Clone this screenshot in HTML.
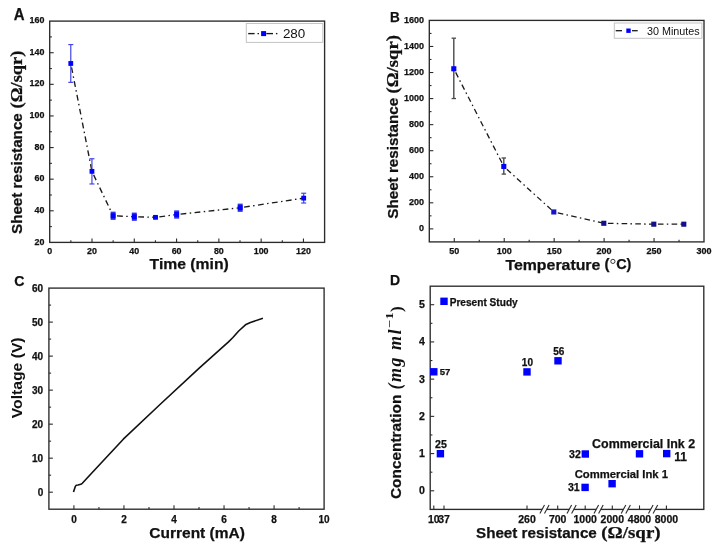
<!DOCTYPE html><html><head><meta charset="utf-8"><style>html,body{margin:0;padding:0;background:#fff;}svg{display:block;will-change:transform}</style></head><body>
<svg width="717" height="547" viewBox="0 0 717 547">
<rect width="717" height="547" fill="#fff"/>
<rect x="49.70" y="21.10" width="274.90" height="221.30" fill="none" stroke="#2b2b2b" stroke-width="1.35"/>
<line x1="70.85" y1="242.40" x2="70.85" y2="240.20" stroke="#2b2b2b" stroke-width="1.1" />
<line x1="91.99" y1="242.40" x2="91.99" y2="238.40" stroke="#2b2b2b" stroke-width="1.1" />
<line x1="113.14" y1="242.40" x2="113.14" y2="240.20" stroke="#2b2b2b" stroke-width="1.1" />
<line x1="134.28" y1="242.40" x2="134.28" y2="238.40" stroke="#2b2b2b" stroke-width="1.1" />
<line x1="155.43" y1="242.40" x2="155.43" y2="240.20" stroke="#2b2b2b" stroke-width="1.1" />
<line x1="176.58" y1="242.40" x2="176.58" y2="238.40" stroke="#2b2b2b" stroke-width="1.1" />
<line x1="197.72" y1="242.40" x2="197.72" y2="240.20" stroke="#2b2b2b" stroke-width="1.1" />
<line x1="218.87" y1="242.40" x2="218.87" y2="238.40" stroke="#2b2b2b" stroke-width="1.1" />
<line x1="240.01" y1="242.40" x2="240.01" y2="240.20" stroke="#2b2b2b" stroke-width="1.1" />
<line x1="261.16" y1="242.40" x2="261.16" y2="238.40" stroke="#2b2b2b" stroke-width="1.1" />
<line x1="282.31" y1="242.40" x2="282.31" y2="240.20" stroke="#2b2b2b" stroke-width="1.1" />
<line x1="303.45" y1="242.40" x2="303.45" y2="238.40" stroke="#2b2b2b" stroke-width="1.1" />
<line x1="49.70" y1="226.59" x2="51.90" y2="226.59" stroke="#2b2b2b" stroke-width="1.1" />
<line x1="49.70" y1="210.79" x2="53.70" y2="210.79" stroke="#2b2b2b" stroke-width="1.1" />
<line x1="49.70" y1="194.98" x2="51.90" y2="194.98" stroke="#2b2b2b" stroke-width="1.1" />
<line x1="49.70" y1="179.17" x2="53.70" y2="179.17" stroke="#2b2b2b" stroke-width="1.1" />
<line x1="49.70" y1="163.37" x2="51.90" y2="163.37" stroke="#2b2b2b" stroke-width="1.1" />
<line x1="49.70" y1="147.56" x2="53.70" y2="147.56" stroke="#2b2b2b" stroke-width="1.1" />
<line x1="49.70" y1="131.75" x2="51.90" y2="131.75" stroke="#2b2b2b" stroke-width="1.1" />
<line x1="49.70" y1="115.94" x2="53.70" y2="115.94" stroke="#2b2b2b" stroke-width="1.1" />
<line x1="49.70" y1="100.14" x2="51.90" y2="100.14" stroke="#2b2b2b" stroke-width="1.1" />
<line x1="49.70" y1="84.33" x2="53.70" y2="84.33" stroke="#2b2b2b" stroke-width="1.1" />
<line x1="49.70" y1="68.52" x2="51.90" y2="68.52" stroke="#2b2b2b" stroke-width="1.1" />
<line x1="49.70" y1="52.72" x2="53.70" y2="52.72" stroke="#2b2b2b" stroke-width="1.1" />
<line x1="49.70" y1="36.91" x2="51.90" y2="36.91" stroke="#2b2b2b" stroke-width="1.1" />
<text x="49.70" y="254.20" font-family='"Liberation Sans", sans-serif' font-size="8.9" font-weight="bold" text-anchor="middle" fill="#111" stroke="#111" stroke-width="0.25" >0</text>
<text x="91.99" y="254.20" font-family='"Liberation Sans", sans-serif' font-size="8.9" font-weight="bold" text-anchor="middle" fill="#111" stroke="#111" stroke-width="0.25" >20</text>
<text x="134.28" y="254.20" font-family='"Liberation Sans", sans-serif' font-size="8.9" font-weight="bold" text-anchor="middle" fill="#111" stroke="#111" stroke-width="0.25" >40</text>
<text x="176.58" y="254.20" font-family='"Liberation Sans", sans-serif' font-size="8.9" font-weight="bold" text-anchor="middle" fill="#111" stroke="#111" stroke-width="0.25" >60</text>
<text x="218.87" y="254.20" font-family='"Liberation Sans", sans-serif' font-size="8.9" font-weight="bold" text-anchor="middle" fill="#111" stroke="#111" stroke-width="0.25" >80</text>
<text x="261.16" y="254.20" font-family='"Liberation Sans", sans-serif' font-size="8.9" font-weight="bold" text-anchor="middle" fill="#111" stroke="#111" stroke-width="0.25" >100</text>
<text x="303.45" y="254.20" font-family='"Liberation Sans", sans-serif' font-size="8.9" font-weight="bold" text-anchor="middle" fill="#111" stroke="#111" stroke-width="0.25" >120</text>
<text x="44.40" y="244.50" font-family='"Liberation Sans", sans-serif' font-size="8.9" font-weight="bold" text-anchor="end" fill="#111" stroke="#111" stroke-width="0.25" >20</text>
<text x="44.40" y="212.89" font-family='"Liberation Sans", sans-serif' font-size="8.9" font-weight="bold" text-anchor="end" fill="#111" stroke="#111" stroke-width="0.25" >40</text>
<text x="44.40" y="181.27" font-family='"Liberation Sans", sans-serif' font-size="8.9" font-weight="bold" text-anchor="end" fill="#111" stroke="#111" stroke-width="0.25" >60</text>
<text x="44.40" y="149.66" font-family='"Liberation Sans", sans-serif' font-size="8.9" font-weight="bold" text-anchor="end" fill="#111" stroke="#111" stroke-width="0.25" >80</text>
<text x="44.40" y="118.04" font-family='"Liberation Sans", sans-serif' font-size="8.9" font-weight="bold" text-anchor="end" fill="#111" stroke="#111" stroke-width="0.25" >100</text>
<text x="44.40" y="86.43" font-family='"Liberation Sans", sans-serif' font-size="8.9" font-weight="bold" text-anchor="end" fill="#111" stroke="#111" stroke-width="0.25" >120</text>
<text x="44.40" y="54.82" font-family='"Liberation Sans", sans-serif' font-size="8.9" font-weight="bold" text-anchor="end" fill="#111" stroke="#111" stroke-width="0.25" >140</text>
<text x="44.40" y="23.20" font-family='"Liberation Sans", sans-serif' font-size="8.9" font-weight="bold" text-anchor="end" fill="#111" stroke="#111" stroke-width="0.25" >160</text>
<line x1="71.53" y1="67.29" x2="91.95" y2="171.36" stroke="#1a1a1a" stroke-width="1.35" stroke-dasharray="5.8 3.4 1.5 3.4"/>
<line x1="93.63" y1="174.88" x2="113.12" y2="215.77" stroke="#1a1a1a" stroke-width="1.35" stroke-dasharray="5.8 3.4 1.5 3.4"/>
<line x1="117.02" y1="215.94" x2="134.30" y2="216.72" stroke="#1a1a1a" stroke-width="1.35" stroke-dasharray="5.8 3.4 1.5 3.4"/>
<line x1="138.20" y1="216.83" x2="155.48" y2="217.34" stroke="#1a1a1a" stroke-width="1.35" stroke-dasharray="5.8 3.4 1.5 3.4"/>
<line x1="159.34" y1="216.83" x2="176.65" y2="214.51" stroke="#1a1a1a" stroke-width="1.35" stroke-dasharray="5.8 3.4 1.5 3.4"/>
<line x1="180.53" y1="214.10" x2="240.18" y2="207.74" stroke="#1a1a1a" stroke-width="1.35" stroke-dasharray="5.8 3.4 1.5 3.4"/>
<line x1="244.03" y1="207.15" x2="303.70" y2="198.13" stroke="#1a1a1a" stroke-width="1.35" stroke-dasharray="5.8 3.4 1.5 3.4"/>
<line x1="70.78" y1="44.57" x2="70.78" y2="82.37" stroke="#4444e8" stroke-width="1.2" />
<line x1="68.28" y1="44.57" x2="73.28" y2="44.57" stroke="#4444e8" stroke-width="1.2" />
<line x1="68.28" y1="82.37" x2="73.28" y2="82.37" stroke="#4444e8" stroke-width="1.2" />
<rect x="68.38" y="61.07" width="4.80" height="4.80" fill="#0000ff"/>
<line x1="91.95" y1="158.75" x2="91.95" y2="183.96" stroke="#4444e8" stroke-width="1.2" />
<line x1="89.45" y1="158.75" x2="94.45" y2="158.75" stroke="#4444e8" stroke-width="1.2" />
<line x1="89.45" y1="183.96" x2="94.45" y2="183.96" stroke="#4444e8" stroke-width="1.2" />
<rect x="89.55" y="168.96" width="4.80" height="4.80" fill="#0000ff"/>
<rect x="110.62" y="211.65" width="5" height="8.24" fill="#3030e8"/>
<rect x="110.72" y="213.37" width="4.80" height="4.80" fill="#0000ff"/>
<rect x="131.80" y="212.59" width="5" height="8.25" fill="#3030e8"/>
<rect x="131.90" y="214.31" width="4.80" height="4.80" fill="#0000ff"/>
<rect x="152.98" y="215.90" width="5" height="2.89" fill="#3030e8"/>
<rect x="153.08" y="214.94" width="4.80" height="4.80" fill="#0000ff"/>
<rect x="174.15" y="210.39" width="5" height="8.25" fill="#3030e8"/>
<rect x="174.25" y="212.11" width="4.80" height="4.80" fill="#0000ff"/>
<rect x="237.68" y="203.62" width="5" height="8.24" fill="#3030e8"/>
<rect x="237.78" y="205.34" width="4.80" height="4.80" fill="#0000ff"/>
<line x1="303.70" y1="193.25" x2="303.70" y2="203.01" stroke="#4444e8" stroke-width="1.2" />
<line x1="301.20" y1="193.25" x2="306.20" y2="193.25" stroke="#4444e8" stroke-width="1.2" />
<line x1="301.20" y1="203.01" x2="306.20" y2="203.01" stroke="#4444e8" stroke-width="1.2" />
<rect x="301.30" y="195.73" width="4.80" height="4.80" fill="#0000ff"/>
<rect x="246.3" y="23.5" width="76.5" height="18.9" fill="#fff" stroke="#c4c4c4" stroke-width="1"/>
<line x1="248.20" y1="33.60" x2="254.60" y2="33.60" stroke="#1a1a1a" stroke-width="1.35" />
<line x1="257.50" y1="33.60" x2="259.00" y2="33.60" stroke="#1a1a1a" stroke-width="1.35" />
<line x1="266.30" y1="33.60" x2="273.00" y2="33.60" stroke="#1a1a1a" stroke-width="1.35" />
<line x1="275.90" y1="33.60" x2="277.40" y2="33.60" stroke="#1a1a1a" stroke-width="1.35" />
<rect x="261.10" y="31.10" width="5.00" height="5.00" fill="#0000ff"/>
<text x="282.90" y="38.20" font-family='"Liberation Sans", sans-serif' font-size="13.6" font-weight="normal" text-anchor="start" fill="#111" textLength="22.4" lengthAdjust="spacingAndGlyphs" >280</text>
<text x="13.80" y="19.70" font-family='"Liberation Sans", sans-serif' font-size="15.6" font-weight="bold" text-anchor="start" fill="#111" stroke="#111" stroke-width="0.25" textLength="10.8" lengthAdjust="spacingAndGlyphs" >A</text>
<text x="149.60" y="269.30" font-family='"Liberation Sans", sans-serif' font-size="15" font-weight="bold" text-anchor="start" fill="#111" stroke="#111" stroke-width="0.25" textLength="79.2" lengthAdjust="spacingAndGlyphs" >Time (min)</text>
<g transform="translate(22.2,234.0) rotate(-90)">
<text x="0.00" y="0.00" font-family='"Liberation Sans", sans-serif' font-size="15.5" font-weight="bold" text-anchor="start" fill="#111" stroke="#111" stroke-width="0.25" textLength="120.8" lengthAdjust="spacingAndGlyphs" >Sheet resistance</text>
<text x="125.60" y="0.00" font-family='"Liberation Serif", serif' font-size="17" font-weight="bold" text-anchor="start" fill="#111" stroke="#111" stroke-width="0.25" textLength="57.8" lengthAdjust="spacingAndGlyphs" >(Ω/sqr)</text>
</g>
<rect x="429.30" y="20.40" width="274.70" height="221.50" fill="none" stroke="#2b2b2b" stroke-width="1.35"/>
<line x1="454.27" y1="241.90" x2="454.27" y2="237.90" stroke="#2b2b2b" stroke-width="1.1" />
<line x1="479.25" y1="241.90" x2="479.25" y2="239.70" stroke="#2b2b2b" stroke-width="1.1" />
<line x1="504.22" y1="241.90" x2="504.22" y2="237.90" stroke="#2b2b2b" stroke-width="1.1" />
<line x1="529.19" y1="241.90" x2="529.19" y2="239.70" stroke="#2b2b2b" stroke-width="1.1" />
<line x1="554.16" y1="241.90" x2="554.16" y2="237.90" stroke="#2b2b2b" stroke-width="1.1" />
<line x1="579.14" y1="241.90" x2="579.14" y2="239.70" stroke="#2b2b2b" stroke-width="1.1" />
<line x1="604.11" y1="241.90" x2="604.11" y2="237.90" stroke="#2b2b2b" stroke-width="1.1" />
<line x1="629.08" y1="241.90" x2="629.08" y2="239.70" stroke="#2b2b2b" stroke-width="1.1" />
<line x1="654.05" y1="241.90" x2="654.05" y2="237.90" stroke="#2b2b2b" stroke-width="1.1" />
<line x1="679.03" y1="241.90" x2="679.03" y2="239.70" stroke="#2b2b2b" stroke-width="1.1" />
<line x1="429.30" y1="228.87" x2="433.30" y2="228.87" stroke="#2b2b2b" stroke-width="1.1" />
<line x1="429.30" y1="215.84" x2="431.50" y2="215.84" stroke="#2b2b2b" stroke-width="1.1" />
<line x1="429.30" y1="202.81" x2="433.30" y2="202.81" stroke="#2b2b2b" stroke-width="1.1" />
<line x1="429.30" y1="189.78" x2="431.50" y2="189.78" stroke="#2b2b2b" stroke-width="1.1" />
<line x1="429.30" y1="176.75" x2="433.30" y2="176.75" stroke="#2b2b2b" stroke-width="1.1" />
<line x1="429.30" y1="163.73" x2="431.50" y2="163.73" stroke="#2b2b2b" stroke-width="1.1" />
<line x1="429.30" y1="150.70" x2="433.30" y2="150.70" stroke="#2b2b2b" stroke-width="1.1" />
<line x1="429.30" y1="137.67" x2="431.50" y2="137.67" stroke="#2b2b2b" stroke-width="1.1" />
<line x1="429.30" y1="124.64" x2="433.30" y2="124.64" stroke="#2b2b2b" stroke-width="1.1" />
<line x1="429.30" y1="111.61" x2="431.50" y2="111.61" stroke="#2b2b2b" stroke-width="1.1" />
<line x1="429.30" y1="98.58" x2="433.30" y2="98.58" stroke="#2b2b2b" stroke-width="1.1" />
<line x1="429.30" y1="85.55" x2="431.50" y2="85.55" stroke="#2b2b2b" stroke-width="1.1" />
<line x1="429.30" y1="72.52" x2="433.30" y2="72.52" stroke="#2b2b2b" stroke-width="1.1" />
<line x1="429.30" y1="59.49" x2="431.50" y2="59.49" stroke="#2b2b2b" stroke-width="1.1" />
<line x1="429.30" y1="46.47" x2="433.30" y2="46.47" stroke="#2b2b2b" stroke-width="1.1" />
<line x1="429.30" y1="33.44" x2="431.50" y2="33.44" stroke="#2b2b2b" stroke-width="1.1" />
<text x="454.27" y="254.20" font-family='"Liberation Sans", sans-serif' font-size="9.0" font-weight="bold" text-anchor="middle" fill="#111" stroke="#111" stroke-width="0.25" >50</text>
<text x="504.22" y="254.20" font-family='"Liberation Sans", sans-serif' font-size="9.0" font-weight="bold" text-anchor="middle" fill="#111" stroke="#111" stroke-width="0.25" >100</text>
<text x="554.16" y="254.20" font-family='"Liberation Sans", sans-serif' font-size="9.0" font-weight="bold" text-anchor="middle" fill="#111" stroke="#111" stroke-width="0.25" >150</text>
<text x="604.11" y="254.20" font-family='"Liberation Sans", sans-serif' font-size="9.0" font-weight="bold" text-anchor="middle" fill="#111" stroke="#111" stroke-width="0.25" >200</text>
<text x="654.05" y="254.20" font-family='"Liberation Sans", sans-serif' font-size="9.0" font-weight="bold" text-anchor="middle" fill="#111" stroke="#111" stroke-width="0.25" >250</text>
<text x="704.00" y="254.20" font-family='"Liberation Sans", sans-serif' font-size="9.0" font-weight="bold" text-anchor="middle" fill="#111" stroke="#111" stroke-width="0.25" >300</text>
<text x="424.00" y="231.47" font-family='"Liberation Sans", sans-serif' font-size="9.0" font-weight="bold" text-anchor="end" fill="#111" stroke="#111" stroke-width="0.25" >0</text>
<text x="424.00" y="205.41" font-family='"Liberation Sans", sans-serif' font-size="9.0" font-weight="bold" text-anchor="end" fill="#111" stroke="#111" stroke-width="0.25" >200</text>
<text x="424.00" y="179.35" font-family='"Liberation Sans", sans-serif' font-size="9.0" font-weight="bold" text-anchor="end" fill="#111" stroke="#111" stroke-width="0.25" >400</text>
<text x="424.00" y="153.30" font-family='"Liberation Sans", sans-serif' font-size="9.0" font-weight="bold" text-anchor="end" fill="#111" stroke="#111" stroke-width="0.25" >600</text>
<text x="424.00" y="127.24" font-family='"Liberation Sans", sans-serif' font-size="9.0" font-weight="bold" text-anchor="end" fill="#111" stroke="#111" stroke-width="0.25" >800</text>
<text x="424.00" y="101.18" font-family='"Liberation Sans", sans-serif' font-size="9.0" font-weight="bold" text-anchor="end" fill="#111" stroke="#111" stroke-width="0.25" >1000</text>
<text x="424.00" y="75.12" font-family='"Liberation Sans", sans-serif' font-size="9.0" font-weight="bold" text-anchor="end" fill="#111" stroke="#111" stroke-width="0.25" >1200</text>
<text x="424.00" y="49.07" font-family='"Liberation Sans", sans-serif' font-size="9.0" font-weight="bold" text-anchor="end" fill="#111" stroke="#111" stroke-width="0.25" >1400</text>
<text x="424.00" y="23.01" font-family='"Liberation Sans", sans-serif' font-size="9.0" font-weight="bold" text-anchor="end" fill="#111" stroke="#111" stroke-width="0.25" >1600</text>
<line x1="455.67" y1="72.42" x2="503.80" y2="166.44" stroke="#1a1a1a" stroke-width="1.3" stroke-dasharray="5.6 3.3 1.5 3.3"/>
<line x1="506.83" y1="169.20" x2="553.80" y2="211.96" stroke="#1a1a1a" stroke-width="1.3" stroke-dasharray="5.6 3.3 1.5 3.3"/>
<line x1="557.80" y1="212.87" x2="603.80" y2="223.28" stroke="#1a1a1a" stroke-width="1.3" stroke-dasharray="5.6 3.3 1.5 3.3"/>
<line x1="607.90" y1="223.35" x2="653.80" y2="224.19" stroke="#1a1a1a" stroke-width="1.3" stroke-dasharray="5.6 3.3 1.5 3.3"/>
<line x1="657.90" y1="224.19" x2="683.80" y2="224.19" stroke="#1a1a1a" stroke-width="1.3" stroke-dasharray="5.6 3.3 1.5 3.3"/>
<line x1="453.80" y1="38.19" x2="453.80" y2="98.54" stroke="#4a4a4a" stroke-width="1.4" />
<line x1="451.60" y1="38.19" x2="456.00" y2="38.19" stroke="#4a4a4a" stroke-width="1.3" />
<line x1="451.60" y1="98.54" x2="456.00" y2="98.54" stroke="#4a4a4a" stroke-width="1.3" />
<rect x="451.25" y="66.22" width="5.10" height="5.10" fill="#0000ff"/>
<line x1="503.80" y1="157.98" x2="503.80" y2="174.10" stroke="#4a4a4a" stroke-width="1.4" />
<line x1="501.60" y1="157.98" x2="506.00" y2="157.98" stroke="#4a4a4a" stroke-width="1.3" />
<line x1="501.60" y1="174.10" x2="506.00" y2="174.10" stroke="#4a4a4a" stroke-width="1.3" />
<rect x="501.25" y="163.89" width="5.10" height="5.10" fill="#0000ff"/>
<rect x="551.25" y="209.41" width="5.10" height="5.10" fill="#1414c8"/>
<rect x="601.25" y="220.73" width="5.10" height="5.10" fill="#10108a"/>
<rect x="651.25" y="221.64" width="5.10" height="5.10" fill="#10108a"/>
<rect x="681.25" y="221.64" width="5.10" height="5.10" fill="#10108a"/>
<rect x="614.3" y="23" width="87.6" height="15.3" fill="#fff" stroke="#c4c4c4" stroke-width="1"/>
<line x1="615.70" y1="30.70" x2="622.00" y2="30.70" stroke="#1a1a1a" stroke-width="1.3" />
<line x1="632.00" y1="30.70" x2="637.70" y2="30.70" stroke="#1a1a1a" stroke-width="1.3" />
<rect x="626.30" y="28.50" width="4.40" height="4.40" fill="#0000ff"/>
<text x="647.00" y="34.60" font-family='"Liberation Sans", sans-serif' font-size="10.8" font-weight="normal" text-anchor="start" fill="#111" textLength="52.7" lengthAdjust="spacingAndGlyphs" >30 Minutes</text>
<text x="390.00" y="21.80" font-family='"Liberation Sans", sans-serif' font-size="15" font-weight="bold" text-anchor="start" fill="#111" stroke="#111" stroke-width="0.25" textLength="9.8" lengthAdjust="spacingAndGlyphs" >B</text>
<text x="505.40" y="269.50" font-family='"Liberation Sans", sans-serif' font-size="15" font-weight="bold" text-anchor="start" fill="#111" stroke="#111" stroke-width="0.25" textLength="95.0" lengthAdjust="spacingAndGlyphs" >Temperature</text>
<text x="604.40" y="268.90" font-family='"Liberation Sans", sans-serif' font-size="15" font-weight="bold" text-anchor="start" fill="#111" stroke="#111" stroke-width="0.25" >(</text>
<circle cx="612.9" cy="261.4" r="2.1" fill="none" stroke="#222" stroke-width="0.9"/>
<text x="616.20" y="268.90" font-family='"Liberation Sans", sans-serif' font-size="15" font-weight="bold" text-anchor="start" fill="#111" stroke="#111" stroke-width="0.25" textLength="15.2" lengthAdjust="spacingAndGlyphs" >C)</text>
<g transform="translate(398.4,218.7) rotate(-90)">
<text x="0.00" y="0.00" font-family='"Liberation Sans", sans-serif' font-size="15.5" font-weight="bold" text-anchor="start" fill="#111" stroke="#111" stroke-width="0.25" textLength="120.8" lengthAdjust="spacingAndGlyphs" >Sheet resistance</text>
<text x="125.20" y="0.00" font-family='"Liberation Serif", serif' font-size="17" font-weight="bold" text-anchor="start" fill="#111" stroke="#111" stroke-width="0.25" textLength="58.5" lengthAdjust="spacingAndGlyphs" >(Ω/sqr)</text>
</g>
<rect x="48.90" y="288.10" width="275.20" height="221.10" fill="none" stroke="#2b2b2b" stroke-width="1.35"/>
<line x1="73.92" y1="509.20" x2="73.92" y2="505.20" stroke="#2b2b2b" stroke-width="1.1" />
<line x1="98.94" y1="509.20" x2="98.94" y2="507.00" stroke="#2b2b2b" stroke-width="1.1" />
<line x1="123.96" y1="509.20" x2="123.96" y2="505.20" stroke="#2b2b2b" stroke-width="1.1" />
<line x1="148.98" y1="509.20" x2="148.98" y2="507.00" stroke="#2b2b2b" stroke-width="1.1" />
<line x1="174.00" y1="509.20" x2="174.00" y2="505.20" stroke="#2b2b2b" stroke-width="1.1" />
<line x1="199.02" y1="509.20" x2="199.02" y2="507.00" stroke="#2b2b2b" stroke-width="1.1" />
<line x1="224.04" y1="509.20" x2="224.04" y2="505.20" stroke="#2b2b2b" stroke-width="1.1" />
<line x1="249.06" y1="509.20" x2="249.06" y2="507.00" stroke="#2b2b2b" stroke-width="1.1" />
<line x1="274.08" y1="509.20" x2="274.08" y2="505.20" stroke="#2b2b2b" stroke-width="1.1" />
<line x1="299.10" y1="509.20" x2="299.10" y2="507.00" stroke="#2b2b2b" stroke-width="1.1" />
<line x1="48.90" y1="492.20" x2="52.90" y2="492.20" stroke="#2b2b2b" stroke-width="1.1" />
<line x1="48.90" y1="475.19" x2="51.10" y2="475.19" stroke="#2b2b2b" stroke-width="1.1" />
<line x1="48.90" y1="458.18" x2="52.90" y2="458.18" stroke="#2b2b2b" stroke-width="1.1" />
<line x1="48.90" y1="441.17" x2="51.10" y2="441.17" stroke="#2b2b2b" stroke-width="1.1" />
<line x1="48.90" y1="424.16" x2="52.90" y2="424.16" stroke="#2b2b2b" stroke-width="1.1" />
<line x1="48.90" y1="407.15" x2="51.10" y2="407.15" stroke="#2b2b2b" stroke-width="1.1" />
<line x1="48.90" y1="390.14" x2="52.90" y2="390.14" stroke="#2b2b2b" stroke-width="1.1" />
<line x1="48.90" y1="373.13" x2="51.10" y2="373.13" stroke="#2b2b2b" stroke-width="1.1" />
<line x1="48.90" y1="356.12" x2="52.90" y2="356.12" stroke="#2b2b2b" stroke-width="1.1" />
<line x1="48.90" y1="339.11" x2="51.10" y2="339.11" stroke="#2b2b2b" stroke-width="1.1" />
<line x1="48.90" y1="322.10" x2="52.90" y2="322.10" stroke="#2b2b2b" stroke-width="1.1" />
<line x1="48.90" y1="305.09" x2="51.10" y2="305.09" stroke="#2b2b2b" stroke-width="1.1" />
<text x="73.92" y="522.90" font-family='"Liberation Sans", sans-serif' font-size="10" font-weight="bold" text-anchor="middle" fill="#111" stroke="#111" stroke-width="0.25" >0</text>
<text x="123.96" y="522.90" font-family='"Liberation Sans", sans-serif' font-size="10" font-weight="bold" text-anchor="middle" fill="#111" stroke="#111" stroke-width="0.25" >2</text>
<text x="174.00" y="522.90" font-family='"Liberation Sans", sans-serif' font-size="10" font-weight="bold" text-anchor="middle" fill="#111" stroke="#111" stroke-width="0.25" >4</text>
<text x="224.04" y="522.90" font-family='"Liberation Sans", sans-serif' font-size="10" font-weight="bold" text-anchor="middle" fill="#111" stroke="#111" stroke-width="0.25" >6</text>
<text x="274.08" y="522.90" font-family='"Liberation Sans", sans-serif' font-size="10" font-weight="bold" text-anchor="middle" fill="#111" stroke="#111" stroke-width="0.25" >8</text>
<text x="324.12" y="522.90" font-family='"Liberation Sans", sans-serif' font-size="10" font-weight="bold" text-anchor="middle" fill="#111" stroke="#111" stroke-width="0.25" >10</text>
<text x="43.20" y="495.80" font-family='"Liberation Sans", sans-serif' font-size="10" font-weight="bold" text-anchor="end" fill="#111" stroke="#111" stroke-width="0.25" >0</text>
<text x="43.20" y="461.78" font-family='"Liberation Sans", sans-serif' font-size="10" font-weight="bold" text-anchor="end" fill="#111" stroke="#111" stroke-width="0.25" >10</text>
<text x="43.20" y="427.76" font-family='"Liberation Sans", sans-serif' font-size="10" font-weight="bold" text-anchor="end" fill="#111" stroke="#111" stroke-width="0.25" >20</text>
<text x="43.20" y="393.74" font-family='"Liberation Sans", sans-serif' font-size="10" font-weight="bold" text-anchor="end" fill="#111" stroke="#111" stroke-width="0.25" >30</text>
<text x="43.20" y="359.72" font-family='"Liberation Sans", sans-serif' font-size="10" font-weight="bold" text-anchor="end" fill="#111" stroke="#111" stroke-width="0.25" >40</text>
<text x="43.20" y="325.70" font-family='"Liberation Sans", sans-serif' font-size="10" font-weight="bold" text-anchor="end" fill="#111" stroke="#111" stroke-width="0.25" >50</text>
<text x="43.20" y="291.68" font-family='"Liberation Sans", sans-serif' font-size="10" font-weight="bold" text-anchor="end" fill="#111" stroke="#111" stroke-width="0.25" >60</text>
<polyline points="73.50,492.00 75.40,486.20 76.30,485.30 78.00,485.00 80.80,484.30 82.30,483.30 94.60,470.00 123.30,439.20 160.00,404.50 199.20,368.20 228.50,341.90 232.90,337.50 238.70,331.00 246.00,324.40 250.40,322.40 262.90,318.30" fill="none" stroke="#111" stroke-width="1.6" stroke-linejoin="round"/>
<text x="14.20" y="286.00" font-family='"Liberation Sans", sans-serif' font-size="15" font-weight="bold" text-anchor="start" fill="#111" stroke="#111" stroke-width="0.25" textLength="10.2" lengthAdjust="spacingAndGlyphs" >C</text>
<text x="149.30" y="538.10" font-family='"Liberation Sans", sans-serif' font-size="15" font-weight="bold" text-anchor="start" fill="#111" stroke="#111" stroke-width="0.25" textLength="95.6" lengthAdjust="spacingAndGlyphs" >Current (mA)</text>
<text transform="translate(22.2,418.2) rotate(-90)" font-family='"Liberation Sans", sans-serif' font-size="15.2" font-weight="bold" fill="#111" textLength="80.8" lengthAdjust="spacingAndGlyphs">Voltage (V)</text>
<rect x="430.20" y="286.20" width="273.60" height="223.20" fill="none" stroke="#2b2b2b" stroke-width="1.35"/>
<line x1="430.20" y1="490.80" x2="434.20" y2="490.80" stroke="#2b2b2b" stroke-width="1.1" />
<line x1="430.20" y1="472.19" x2="432.40" y2="472.19" stroke="#2b2b2b" stroke-width="1.1" />
<line x1="430.20" y1="453.58" x2="434.20" y2="453.58" stroke="#2b2b2b" stroke-width="1.1" />
<line x1="430.20" y1="434.97" x2="432.40" y2="434.97" stroke="#2b2b2b" stroke-width="1.1" />
<line x1="430.20" y1="416.36" x2="434.20" y2="416.36" stroke="#2b2b2b" stroke-width="1.1" />
<line x1="430.20" y1="397.75" x2="432.40" y2="397.75" stroke="#2b2b2b" stroke-width="1.1" />
<line x1="430.20" y1="379.14" x2="434.20" y2="379.14" stroke="#2b2b2b" stroke-width="1.1" />
<line x1="430.20" y1="360.53" x2="432.40" y2="360.53" stroke="#2b2b2b" stroke-width="1.1" />
<line x1="430.20" y1="341.92" x2="434.20" y2="341.92" stroke="#2b2b2b" stroke-width="1.1" />
<line x1="430.20" y1="323.31" x2="432.40" y2="323.31" stroke="#2b2b2b" stroke-width="1.1" />
<line x1="430.20" y1="304.70" x2="434.20" y2="304.70" stroke="#2b2b2b" stroke-width="1.1" />
<text x="425.00" y="494.30" font-family='"Liberation Sans", sans-serif' font-size="10.6" font-weight="bold" text-anchor="end" fill="#111" stroke="#111" stroke-width="0.25" >0</text>
<text x="425.00" y="457.08" font-family='"Liberation Sans", sans-serif' font-size="10.6" font-weight="bold" text-anchor="end" fill="#111" stroke="#111" stroke-width="0.25" >1</text>
<text x="425.00" y="419.86" font-family='"Liberation Sans", sans-serif' font-size="10.6" font-weight="bold" text-anchor="end" fill="#111" stroke="#111" stroke-width="0.25" >2</text>
<text x="425.00" y="382.64" font-family='"Liberation Sans", sans-serif' font-size="10.6" font-weight="bold" text-anchor="end" fill="#111" stroke="#111" stroke-width="0.25" >3</text>
<text x="425.00" y="345.42" font-family='"Liberation Sans", sans-serif' font-size="10.6" font-weight="bold" text-anchor="end" fill="#111" stroke="#111" stroke-width="0.25" >4</text>
<text x="425.00" y="308.20" font-family='"Liberation Sans", sans-serif' font-size="10.6" font-weight="bold" text-anchor="end" fill="#111" stroke="#111" stroke-width="0.25" >5</text>
<line x1="433.80" y1="509.40" x2="433.80" y2="505.40" stroke="#2b2b2b" stroke-width="1.1" />
<line x1="444.00" y1="509.40" x2="444.00" y2="505.40" stroke="#2b2b2b" stroke-width="1.1" />
<line x1="527.00" y1="509.40" x2="527.00" y2="505.40" stroke="#2b2b2b" stroke-width="1.1" />
<line x1="557.70" y1="509.40" x2="557.70" y2="505.40" stroke="#2b2b2b" stroke-width="1.1" />
<line x1="585.20" y1="509.40" x2="585.20" y2="505.40" stroke="#2b2b2b" stroke-width="1.1" />
<line x1="612.30" y1="509.40" x2="612.30" y2="505.40" stroke="#2b2b2b" stroke-width="1.1" />
<line x1="639.50" y1="509.40" x2="639.50" y2="505.40" stroke="#2b2b2b" stroke-width="1.1" />
<line x1="666.40" y1="509.40" x2="666.40" y2="505.40" stroke="#2b2b2b" stroke-width="1.1" />
<rect x="542.20" y="508.20" width="4.6" height="2.4" fill="#fff"/>
<line x1="539.90" y1="513.40" x2="544.50" y2="505.00" stroke="#2b2b2b" stroke-width="1.1" />
<line x1="544.50" y1="513.40" x2="549.10" y2="505.00" stroke="#2b2b2b" stroke-width="1.1" />
<rect x="569.30" y="508.20" width="4.6" height="2.4" fill="#fff"/>
<line x1="567.00" y1="513.40" x2="571.60" y2="505.00" stroke="#2b2b2b" stroke-width="1.1" />
<line x1="571.60" y1="513.40" x2="576.20" y2="505.00" stroke="#2b2b2b" stroke-width="1.1" />
<rect x="596.30" y="508.20" width="4.6" height="2.4" fill="#fff"/>
<line x1="594.00" y1="513.40" x2="598.60" y2="505.00" stroke="#2b2b2b" stroke-width="1.1" />
<line x1="598.60" y1="513.40" x2="603.20" y2="505.00" stroke="#2b2b2b" stroke-width="1.1" />
<rect x="623.50" y="508.20" width="4.6" height="2.4" fill="#fff"/>
<line x1="621.20" y1="513.40" x2="625.80" y2="505.00" stroke="#2b2b2b" stroke-width="1.1" />
<line x1="625.80" y1="513.40" x2="630.40" y2="505.00" stroke="#2b2b2b" stroke-width="1.1" />
<rect x="650.80" y="508.20" width="4.6" height="2.4" fill="#fff"/>
<line x1="648.50" y1="513.40" x2="653.10" y2="505.00" stroke="#2b2b2b" stroke-width="1.1" />
<line x1="653.10" y1="513.40" x2="657.70" y2="505.00" stroke="#2b2b2b" stroke-width="1.1" />
<text x="433.80" y="522.50" font-family='"Liberation Sans", sans-serif' font-size="10.5" font-weight="bold" text-anchor="middle" fill="#111" stroke="#111" stroke-width="0.25" >10</text>
<text x="444.00" y="522.50" font-family='"Liberation Sans", sans-serif' font-size="10.5" font-weight="bold" text-anchor="middle" fill="#111" stroke="#111" stroke-width="0.25" >37</text>
<text x="527.00" y="522.50" font-family='"Liberation Sans", sans-serif' font-size="10.5" font-weight="bold" text-anchor="middle" fill="#111" stroke="#111" stroke-width="0.25" >260</text>
<text x="557.70" y="522.50" font-family='"Liberation Sans", sans-serif' font-size="10.5" font-weight="bold" text-anchor="middle" fill="#111" stroke="#111" stroke-width="0.25" >700</text>
<text x="585.20" y="522.50" font-family='"Liberation Sans", sans-serif' font-size="10.5" font-weight="bold" text-anchor="middle" fill="#111" stroke="#111" stroke-width="0.25" >1000</text>
<text x="612.30" y="522.50" font-family='"Liberation Sans", sans-serif' font-size="10.5" font-weight="bold" text-anchor="middle" fill="#111" stroke="#111" stroke-width="0.25" >2000</text>
<text x="639.50" y="522.50" font-family='"Liberation Sans", sans-serif' font-size="10.5" font-weight="bold" text-anchor="middle" fill="#111" stroke="#111" stroke-width="0.25" >4800</text>
<text x="666.40" y="522.50" font-family='"Liberation Sans", sans-serif' font-size="10.5" font-weight="bold" text-anchor="middle" fill="#111" stroke="#111" stroke-width="0.25" >8000</text>
<rect x="430.10" y="368.10" width="7.40" height="7.40" fill="#0000ff"/>
<rect x="440.30" y="297.60" width="7.40" height="7.40" fill="#0000ff"/>
<rect x="436.70" y="450.00" width="7.40" height="7.40" fill="#0000ff"/>
<rect x="523.30" y="368.20" width="7.40" height="7.40" fill="#0000ff"/>
<rect x="554.30" y="357.10" width="7.40" height="7.40" fill="#0000ff"/>
<rect x="581.60" y="450.30" width="7.40" height="7.40" fill="#0000ff"/>
<rect x="581.40" y="483.70" width="7.40" height="7.40" fill="#0000ff"/>
<rect x="608.40" y="480.00" width="7.40" height="7.40" fill="#0000ff"/>
<rect x="635.80" y="450.10" width="7.40" height="7.40" fill="#0000ff"/>
<rect x="663.00" y="449.90" width="7.40" height="7.40" fill="#0000ff"/>
<text x="449.70" y="305.50" font-family='"Liberation Sans", sans-serif' font-size="10" font-weight="bold" text-anchor="start" fill="#111" stroke="#111" stroke-width="0.25" textLength="68" lengthAdjust="spacingAndGlyphs" >Present Study</text>
<text x="439.70" y="375.20" font-family='"Liberation Sans", sans-serif' font-size="9.6" font-weight="bold" text-anchor="start" fill="#111" stroke="#111" stroke-width="0.25" >57</text>
<text x="441.00" y="448.10" font-family='"Liberation Sans", sans-serif' font-size="10.6" font-weight="bold" text-anchor="middle" fill="#111" stroke="#111" stroke-width="0.25" >25</text>
<text x="527.40" y="366.40" font-family='"Liberation Sans", sans-serif' font-size="10" font-weight="bold" text-anchor="middle" fill="#111" stroke="#111" stroke-width="0.25" >10</text>
<text x="558.80" y="354.60" font-family='"Liberation Sans", sans-serif' font-size="10" font-weight="bold" text-anchor="middle" fill="#111" stroke="#111" stroke-width="0.25" >56</text>
<text x="580.80" y="458.10" font-family='"Liberation Sans", sans-serif' font-size="10.6" font-weight="bold" text-anchor="end" fill="#111" stroke="#111" stroke-width="0.25" >32</text>
<text x="579.70" y="491.00" font-family='"Liberation Sans", sans-serif' font-size="10.6" font-weight="bold" text-anchor="end" fill="#111" stroke="#111" stroke-width="0.25" >31</text>
<text x="674.30" y="461.20" font-family='"Liberation Sans", sans-serif' font-size="12" font-weight="bold" text-anchor="start" fill="#111" stroke="#111" stroke-width="0.25" >11</text>
<text x="592.10" y="448.10" font-family='"Liberation Sans", sans-serif' font-size="12.2" font-weight="bold" text-anchor="start" fill="#111" stroke="#111" stroke-width="0.25" textLength="103" lengthAdjust="spacingAndGlyphs" >Commercial Ink 2</text>
<text x="574.70" y="478.10" font-family='"Liberation Sans", sans-serif' font-size="11.1" font-weight="bold" text-anchor="start" fill="#111" stroke="#111" stroke-width="0.25" textLength="93.3" lengthAdjust="spacingAndGlyphs" >Commercial Ink 1</text>
<text x="390.00" y="284.80" font-family='"Liberation Sans", sans-serif' font-size="14" font-weight="bold" text-anchor="start" fill="#111" stroke="#111" stroke-width="0.25" textLength="10.1" lengthAdjust="spacingAndGlyphs" >D</text>
<text x="476.00" y="538.30" font-family='"Liberation Sans", sans-serif' font-size="14.6" font-weight="bold" text-anchor="start" fill="#111" stroke="#111" stroke-width="0.25" textLength="120.8" lengthAdjust="spacingAndGlyphs" >Sheet resistance</text>
<text x="601.30" y="538.30" font-family='"Liberation Serif", serif' font-size="16.5" font-weight="bold" text-anchor="start" fill="#111" stroke="#111" stroke-width="0.25" textLength="59.3" lengthAdjust="spacingAndGlyphs" >(Ω/sqr)</text>
<g transform="translate(401,499) rotate(-90)">
<text x="0.00" y="0.00" font-family='"Liberation Sans", sans-serif' font-size="15.2" font-weight="bold" text-anchor="start" fill="#111" stroke="#111" stroke-width="0.25" textLength="104.3" lengthAdjust="spacingAndGlyphs" >Concentration</text>
<text x="109.6" y="0" font-family='"Liberation Serif", serif' font-size="18" font-weight="bold" font-style="italic" fill="#111" textLength="60" lengthAdjust="spacing">(mg ml</text>
<text x="171.2" y="-7.8" font-family='"Liberation Serif", serif' font-size="10.5" font-weight="bold" fill="#111" textLength="15.4" lengthAdjust="spacingAndGlyphs">−1</text>
<text x="187.0" y="0.8" font-family='"Liberation Serif", serif' font-size="17.5" font-weight="bold" fill="#111">)</text>
</g>
</svg></body></html>
